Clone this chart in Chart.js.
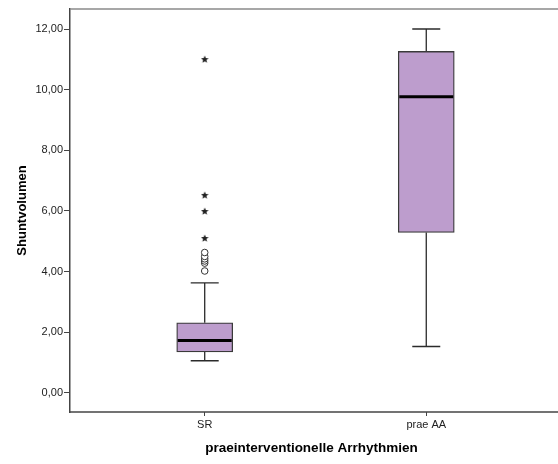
<!DOCTYPE html>
<html>
<head>
<meta charset="utf-8">
<script src="https://cdn.jsdelivr.net/npm/chart.js@4/dist/chart.umd.min.js"></script>
<style>
  html, body { margin: 0; padding: 0; background: #fff; overflow: hidden; }
  canvas { display: block; }
</style>
</head>
<body>
<canvas id="boxChart" width="558" height="464"></canvas>
<script>
const categories = ['SR', 'prae AA'];
const whiskerLow = [1.06, 1.53];
const quart1 = [1.35, 5.29];
const median = [1.73, 9.77];
const quart3 = [2.31, 11.26];
const whiskerHigh = [3.63, 12.0];
// outliers of the SR group
const srOutliers = [4.02, 4.28, 4.35, 4.42, 4.5, 4.63];
const srExtremes = [5.11, 6.0, 6.53, 11.01];

const yTicks = [0, 2, 4, 6, 8, 10, 12];

const boxFill = '#bd9dcd';
const lineColor = '#2b2b2b';

// filled five-point star used for the extreme values
function makeStar(size) {
    const c = document.createElement('canvas');
    c.width = size; c.height = size;
    const g = c.getContext('2d');
    const cx = size / 2, cy = size / 2 + 0.5;
    const R = size / 2, r = R * 0.45;
    g.beginPath();
    for (let i = 0; i < 10; i++) {
        const rad = i % 2 === 0 ? R : r;
        const a = -Math.PI / 2 + i * Math.PI / 5;
        g.lineTo(cx + rad * Math.cos(a), cy + rad * Math.sin(a));
    }
    g.closePath();
    g.fillStyle = '#222';
    g.fill();
    return c;
}

const boxParts = {
    id: 'boxParts',
    beforeDatasetsDraw(chart) {
        const { ctx, scales: { x, y } } = chart;
        ctx.save();
        ctx.strokeStyle = lineColor;
        ctx.lineWidth = 1.3;
        categories.forEach((_, i) => {
            const px = x.getPixelForValue(i + 1);
            const cap = 14;
            ctx.beginPath();
            ctx.moveTo(px, y.getPixelForValue(quart3[i]));
            ctx.lineTo(px, y.getPixelForValue(whiskerHigh[i]));
            ctx.moveTo(px, y.getPixelForValue(quart1[i]));
            ctx.lineTo(px, y.getPixelForValue(whiskerLow[i]));
            ctx.moveTo(px - cap, y.getPixelForValue(whiskerHigh[i]));
            ctx.lineTo(px + cap, y.getPixelForValue(whiskerHigh[i]));
            ctx.moveTo(px - cap, y.getPixelForValue(whiskerLow[i]));
            ctx.lineTo(px + cap, y.getPixelForValue(whiskerLow[i]));
            ctx.stroke();
        });
        ctx.restore();
    },
    afterDatasetsDraw(chart) {
        const { ctx, scales: { x, y } } = chart;
        const bars = chart.getDatasetMeta(0).data;
        ctx.save();
        ctx.strokeStyle = '#000';
        ctx.lineWidth = 3;
        categories.forEach((_, i) => {
            const half = bars[i].width / 2;
            const px = x.getPixelForValue(i + 1);
            const py = y.getPixelForValue(median[i]);
            ctx.beginPath();
            ctx.moveTo(px - half + 1, py);
            ctx.lineTo(px + half - 1, py);
            ctx.stroke();
        });
        ctx.restore();
    },
    afterDraw(chart) {
        // frame runs on to the right edge of the canvas
        const { ctx, chartArea: a } = chart;
        ctx.save();
        ctx.lineWidth = 1.5;
        ctx.strokeStyle = '#8a8a8a';
        ctx.beginPath();
        ctx.moveTo(a.left, a.top);
        ctx.lineTo(chart.width, a.top);
        ctx.stroke();
        ctx.strokeStyle = '#444';
        ctx.beginPath();
        ctx.moveTo(a.left - 0.75, a.bottom);
        ctx.lineTo(chart.width, a.bottom);
        ctx.stroke();
        ctx.restore();
    }
};

const fmt = v => v.toFixed(2).replace('.', ',');

new Chart(document.getElementById('boxChart'), {
    type: 'bar',
    data: {
        datasets: [
            {
                type: 'bar',
                data: categories.map((_, i) => ({ x: i + 1, y: [quart1[i], quart3[i]] })),
                backgroundColor: boxFill,
                borderColor: '#3a3a3a',
                borderWidth: 1.3,
                borderSkipped: false,
                barThickness: 56
            },
            {
                type: 'scatter',
                data: srOutliers.map(v => ({ x: 1, y: v })),
                pointStyle: 'circle',
                pointRadius: 3.3,
                backgroundColor: '#fff',
                borderColor: '#333',
                borderWidth: 1
            },
            {
                type: 'scatter',
                data: srExtremes.map(v => ({ x: 1, y: v })),
                pointStyle: makeStar(8),
                pointRadius: 4
            }
        ]
    },
    options: {
        responsive: false,
        animation: false,
        layout: { padding: { top: 9, left: 0, right: 0, bottom: 0 } },
        plugins: {
            legend: { display: false },
            tooltip: { enabled: false }
        },
        scales: {
            x: {
                type: 'linear',
                min: 0.392,
                max: 2.572,
                offset: false,
                afterBuildTicks: axis => { axis.ticks = categories.map((_, i) => ({ value: i + 1 })); },
                afterFit: axis => { axis.height = 52; },
                ticks: {
                    callback: v => categories[v - 1],
                    color: '#222',
                    font: { family: 'Liberation Sans, Arial, sans-serif', size: 11 },
                    padding: 2,
                    maxRotation: 0
                },
                grid: { drawOnChartArea: false, offset: false, tickLength: 4, color: '#444', lineWidth: 1 },
                border: { display: false },
                title: {
                    display: true,
                    text: 'praeinterventionelle Arrhythmien',
                    color: '#000',
                    font: { family: 'Liberation Sans, Arial, sans-serif', size: 13.5, weight: 'bold' },
                    padding: { top: 0, bottom: 8 }
                }
            },
            y: {
                min: -0.63,
                max: 12.66,
                afterBuildTicks: axis => { axis.ticks = yTicks.map(v => ({ value: v })); },
                afterFit: axis => { axis.width = 70; },
                ticks: {
                    callback: v => fmt(v),
                    color: '#222',
                    font: { family: 'Liberation Sans, Arial, sans-serif', size: 11 },
                    padding: 1
                },
                grid: { drawOnChartArea: false, tickLength: 6, color: '#444', lineWidth: 1 },
                border: { color: '#444', width: 1.5 },
                title: {
                    display: true,
                    text: 'Shuntvolumen',
                    color: '#000',
                    font: { family: 'Liberation Sans, Arial, sans-serif', size: 13, weight: 'bold' },
                    padding: { top: 15, bottom: 0 }
                }
            }
        }
    },
    plugins: [boxParts]
});
</script>
</body>
</html>
